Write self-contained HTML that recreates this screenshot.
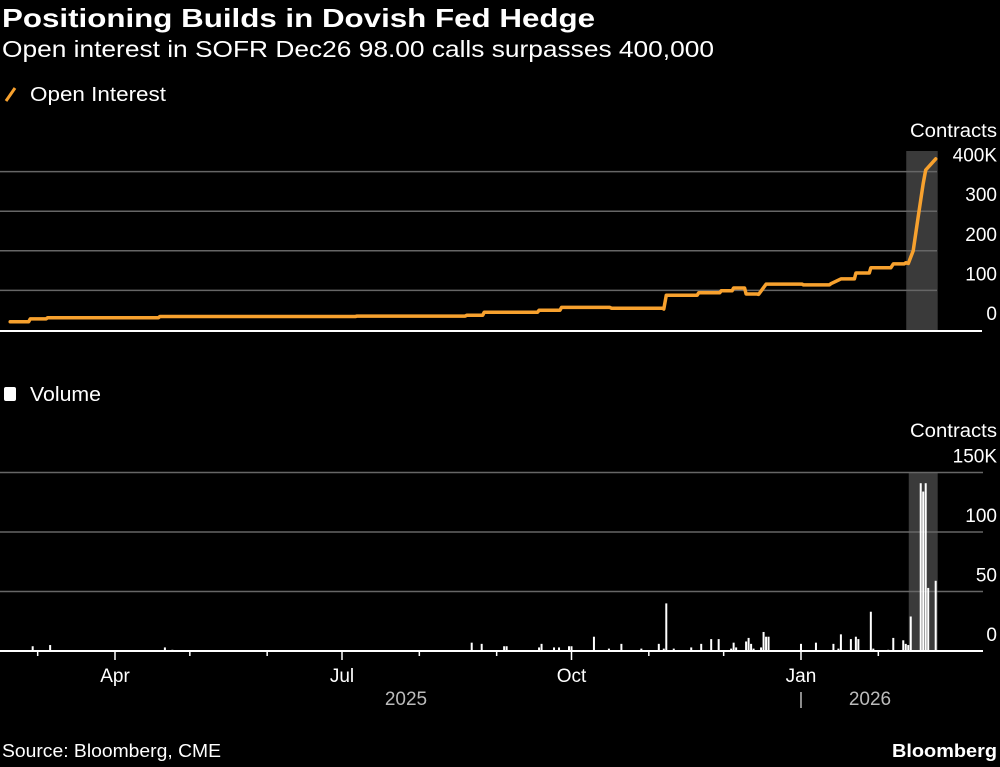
<!DOCTYPE html>
<html><head><meta charset="utf-8"><style>
body{margin:0;background:#000;width:1000px;height:762px;overflow:hidden;font-family:"Liberation Sans",sans-serif;color:#fff}
</style></head><body>
<svg id="chart" width="1000" height="762" xmlns="http://www.w3.org/2000/svg" style="font-family:'Liberation Sans',sans-serif">
<text x="2" y="27" font-size="26" font-weight="bold" fill="#fff" textLength="593" lengthAdjust="spacingAndGlyphs">Positioning Builds in Dovish Fed Hedge</text>
<text x="2" y="57" font-size="23" fill="#fff" textLength="712" lengthAdjust="spacingAndGlyphs">Open interest in SOFR Dec26 98.00 calls surpasses 400,000</text>
<g><line x1="6" y1="101" x2="15" y2="88" stroke="#f7a12e" stroke-width="3"/><text x="30" y="101" font-size="20" fill="#fff" textLength="136" lengthAdjust="spacingAndGlyphs">Open Interest</text></g>
<g><rect x="4" y="387" width="12" height="14" rx="2" fill="#fff"/><text x="30" y="401" font-size="20" fill="#fff" textLength="71" lengthAdjust="spacingAndGlyphs">Volume</text></g>
<text x="910" y="137" font-size="19" fill="#fff" textLength="87" lengthAdjust="spacingAndGlyphs">Contracts</text>
<text x="910" y="437" font-size="19" fill="#fff" textLength="87" lengthAdjust="spacingAndGlyphs">Contracts</text>
<g id="topg"></g><g id="botg"></g><g id="xaxis"></g>
<text x="2" y="757" font-size="18" fill="#fff" textLength="219" lengthAdjust="spacingAndGlyphs">Source: Bloomberg, CME</text>
<text x="892" y="757" font-size="18" font-weight="bold" fill="#fff" textLength="105" lengthAdjust="spacingAndGlyphs">Bloomberg</text>
</svg>
<script>
// days relative to Apr 1, 2025
const oiDays=[-42,-34,-27,18,97,141,148,170,179,199,220,221,234,243,248,253,258,261,276,287,291,297,303,311,312,317,318,320,322,324,325,329];
const oiValues=[21,28,31,34,35,37,45,50,57,55,53,88,94,99,106,91,90,116,114,117,129,144,157,157,167,170,168,200,286,370,404,432];
const volDays=[-33,-26,20,23,143,147,156,157,170,171,176,178,182,183,192,198,203,211,218,220,221,224,231,235,239,242,247,248,249,253,254,255,256,259,260,261,262,275,281,288,290,291,295,297,298,303,304,310,312,316,317,318,319,323,324,325,326,329];
const volValues=[4,5,3,1,7,6,4,4,3,6,3,3,4,4,12,2,6,2,6,2,40,2,3,6,10,10,2,7,3,8,11,6,2,3,16,12,12,6,7,6,2,14,10,12,10,33,2,1,11,9,6,5,29,141,134,141,53,59];
const topTicks=[0,100,200,300,400];
const topTickLabels=["0","100","200","300","400K"];
const botTicks=[0,50,100,150];
const botTickLabels=["0","50","100","150K"];
const monthDays=[-31,0,30,61,91,122,153,183,214,244,275,306];
const monthLabels=["","Apr","","","Jul","","","Oct","","","Jan",""];
const NS="http://www.w3.org/2000/svg";
const xS=d=>115+d*2.4945;
const yTop=v=>330-v*0.396;
const yBot=v=>651-v*1.19;
function mk(tag,attrs,parent,txt){const e=document.createElementNS(NS,tag);for(const k in attrs)e.setAttribute(k,attrs[k]);if(txt!==undefined)e.textContent=txt;parent.appendChild(e);return e;}
const gTop=document.getElementById('topg'),gBot=document.getElementById('botg'),xa=document.getElementById('xaxis');
let s1=mk('rect',{x:xS(318)-2,y:151,width:xS(329)-xS(318)+4,height:179,fill:'#3a3a3a'},gTop);


let s2=mk('rect',{x:xS(319)-2,y:472,width:xS(329)-xS(319)+4,height:179,fill:'#3a3a3a'},gBot);


topTicks.forEach((t,i)=>{
 let g=mk('line',{x1:0,x2:t===0?982:937,y1:t===0?331:yTop(t),y2:t===0?331:yTop(t),stroke:t===0?'#fff':'#666','stroke-width':t===0?2:1.5},gTop);
 
 
 let l=mk('text',{x:997,y:yTop(t)-10,'font-size':19,'text-anchor':'end',fill:'#fff'},gTop,topTickLabels[i]);
 
 
});
let dpath='M'+xS(oiDays[0]).toFixed(1)+','+yTop(oiValues[0]).toFixed(1);
for(let i=1;i<oiDays.length;i++){
 const x=xS(oiDays[i]).toFixed(1), y=yTop(oiValues[i]).toFixed(1);
 if(oiDays[i]-oiDays[i-1]<=4) dpath+=' L'+x+','+y;
 else dpath+=' H'+(xS(oiDays[i])-1.5).toFixed(1)+' L'+x+','+y;
}
let pl=mk('path',{d:dpath,fill:'none',stroke:'#f7a12e','stroke-width':3.5,'stroke-linejoin':'round','stroke-linecap':'round'},gTop);


botTicks.forEach((t,i)=>{
 let g=mk('line',{x1:0,x2:983,y1:yBot(t),y2:yBot(t),stroke:t===0?'#fff':'#666','stroke-width':t===0?2:1.5},gBot);
 
 
 let l=mk('text',{x:997,y:yBot(t)-10,'font-size':19,'text-anchor':'end',fill:'#fff'},gBot,botTickLabels[i]);
 
 
});
volDays.forEach((d,i)=>{
 let b=mk('rect',{x:xS(d)-1,y:yBot(volValues[i]),width:2,height:volValues[i]*1.19,fill:'#fff'},gBot);
 
 
});
monthDays.forEach((d,i)=>{
 const q=monthLabels[i]!=='';
 let t=mk('line',{x1:xS(d),x2:xS(d),y1:651,y2:q?660:656,stroke:'#fff','stroke-width':1.5},xa);
 
 
 if(q){let l=mk('text',{x:xS(d),y:682,'font-size':19,'text-anchor':'middle',fill:'#fff'},xa,monthLabels[i]);
 
 }
});
let y1=mk('text',{x:406,y:705,'font-size':19,'text-anchor':'middle',fill:'#bbb'},xa,'2025');


let y2=mk('text',{x:870,y:705,'font-size':19,'text-anchor':'middle',fill:'#bbb'},xa,'2026');


let sep=mk('line',{x1:xS(275),x2:xS(275),y1:692,y2:708,stroke:'#bbb','stroke-width':1.5},xa);


</script>
</body></html>
